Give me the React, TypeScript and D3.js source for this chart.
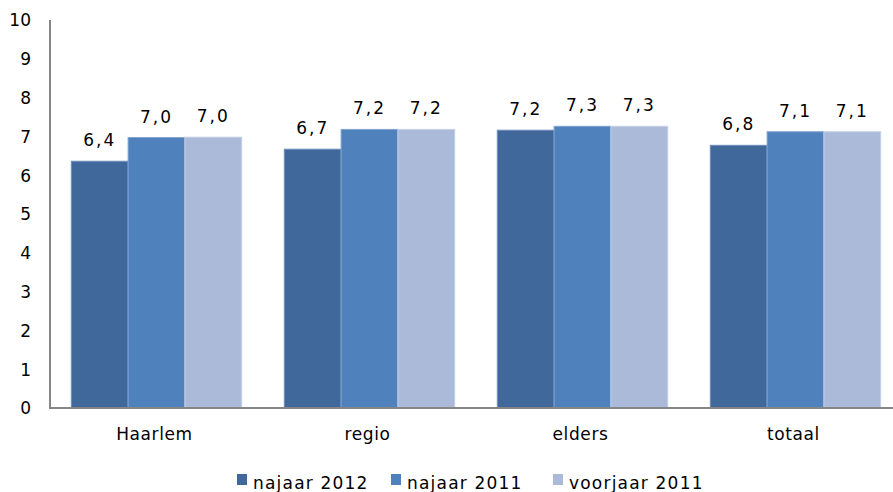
import * as React from 'react';
import * as d3 from 'd3';

const categories = ['Haarlem', 'regio', 'elders', 'totaal'];
const seriesNames = ['najaar 2012', 'najaar 2011', 'voorjaar 2011'];
const najaar2012 = [6.36, 6.67, 7.16, 6.77];
const najaar2011 = [6.97, 7.18, 7.26, 7.12];
const voorjaar2011 = [6.98, 7.18, 7.26, 7.12];
const yTicks = [0, 1, 2, 3, 4, 5, 6, 7, 8, 9, 10];

const colors = ['#41689A', '#4F81BD', '#AABAD8'];
const edges = ['#6E8FBC', '#7FA3D1', '#C4D0E6'];

const W = 893;
const H = 492;
const FONT = '"DejaVu Sans", Verdana, sans-serif';

export default function App() {
  const series = [najaar2012, najaar2011, voorjaar2011];

  const x = d3.scaleBand<string>()
    .domain(categories)
    .range([50, 902])
    .paddingInner(0.2)
    .paddingOuter(0.1);

  const xs = d3.scaleBand<string>()
    .domain(seriesNames)
    .range([0, x.bandwidth()]);

  const y = d3.scaleLinear().domain([0, 10]).range([408, 20]);

  const fmt = (v: number) => d3.format('.1f')(v).replace('.', ',');

  const legendX = [237, 391, 553];

  return (
    <svg
      width={W}
      height={H}
      style={{ position: 'absolute', left: 0, top: 0, background: '#fff' }}
      fontFamily={FONT}
    >
      {/* y tick labels */}
      {yTicks.map((t) => (
        <text
          key={t}
          x={31}
          y={y(t)}
          dy="0.38em"
          textAnchor="end"
          fontSize={17}
          fill="#000"
        >
          {t}
        </text>
      ))}

      {/* bars */}
      {categories.map((c, i) => (
        <g key={c} transform={`translate(${x(c)},0)`}>
          {series.map((s, j) => (
            <rect
              key={j}
              x={xs(seriesNames[j])}
              y={y(s[i])}
              width={xs.bandwidth()}
              height={y(0) - y(s[i])}
              fill={colors[j]}
              stroke={edges[j]}
              strokeWidth={1}
            />
          ))}
          {series.map((s, j) => (
            <text
              key={'l' + j}
              x={(xs(seriesNames[j]) as number) + xs.bandwidth() / 2}
              y={y(s[i]) - 15}
              textAnchor="middle"
              fontSize={17}
              letterSpacing={2}
              fill="#000"
            >
              {fmt(s[i])}
            </text>
          ))}
          <text
            x={x.bandwidth() / 2 - 2}
            y={440}
            textAnchor="middle"
            fontSize={17}
            letterSpacing={0.6}
            fill="#000"
          >
            {c}
          </text>
        </g>
      ))}

      {/* axes */}
      <line x1={50} x2={50} y1={20} y2={409} stroke="#868686" strokeWidth={2} />
      <line x1={49} x2={W} y1={408} y2={408} stroke="#868686" strokeWidth={2} />

      {/* legend */}
      {seriesNames.map((n, j) => (
        <g key={n} transform={`translate(${legendX[j]},474)`}>
          <rect width={10} height={11} fill={colors[j]} />
          <text x={16} y={15} fontSize={17} letterSpacing={1.2} fill="#000">
            {n}
          </text>
        </g>
      ))}
    </svg>
  );
}
